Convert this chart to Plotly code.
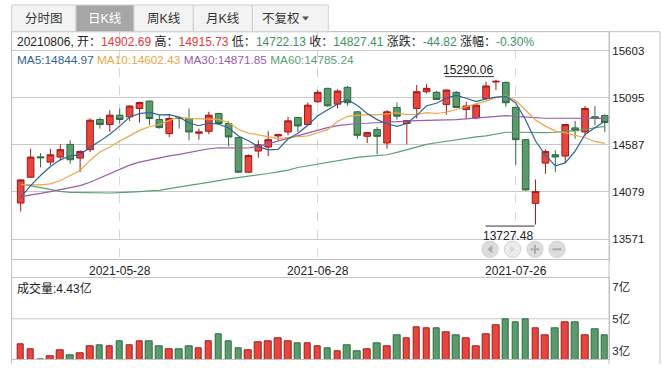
import plotly.graph_objects as go

# ---------------- data ----------------
dates = ["2021-05-14", "2021-05-17", "2021-05-18", "2021-05-19", "2021-05-20", "2021-05-21",
         "2021-05-24", "2021-05-25", "2021-05-26", "2021-05-27", "2021-05-28", "2021-05-31",
         "2021-06-01", "2021-06-02", "2021-06-03", "2021-06-04", "2021-06-07", "2021-06-08",
         "2021-06-09", "2021-06-10", "2021-06-11", "2021-06-15", "2021-06-16", "2021-06-17",
         "2021-06-18", "2021-06-21", "2021-06-22", "2021-06-23", "2021-06-24", "2021-06-25",
         "2021-06-28", "2021-06-29", "2021-06-30", "2021-07-01", "2021-07-02", "2021-07-05",
         "2021-07-06", "2021-07-07", "2021-07-08", "2021-07-09", "2021-07-12", "2021-07-13",
         "2021-07-14", "2021-07-15", "2021-07-16", "2021-07-19", "2021-07-20", "2021-07-21",
         "2021-07-22", "2021-07-23", "2021-07-26", "2021-07-27", "2021-07-28", "2021-07-29",
         "2021-07-30", "2021-08-02", "2021-08-03", "2021-08-04", "2021-08-05", "2021-08-06"]

opens = [13960, 14238, 14458, 14401, 14455, 14592, 14444, 14535, 14860, 14806,
         14907, 14889, 14979, 15059, 14860, 14708, 14882, 14871, 14712, 14733,
         14925, 14817, 14665, 14292, 14520, 14563, 14683, 14726, 14882, 14806,
         15052, 15196, 15026, 15207, 14943, 14679, 14752, 14607, 14990, 14817,
         14979, 15160, 15153, 15023, 15153, 14968, 14878, 15088, 15265, 15261,
         14990, 14643, 13956, 14390, 14480, 14466, 14770, 14726, 14890, 14902.69]
highs = [14216, 14545, 14498, 14545, 14592, 14636, 14527, 14871, 14882, 14961,
         14979, 15015, 15052, 15062, 14907, 14907, 14889, 14979, 14762, 14943,
         14932, 14842, 14672, 14484, 14636, 14733, 14708, 14889, 14889, 15044,
         15178, 15203, 15185, 15222, 14950, 14726, 14780, 14961, 15044, 14853,
         15232, 15243, 15167, 15185, 15167, 15052, 15033, 15269, 15290.06, 15269,
         14997, 14650, 14213, 14538, 14527, 14809, 14845, 15005, 15005, 14915.73]
lows = [13869, 14231, 14346, 14365, 14419, 14383, 14292, 14509, 14762, 14726,
        14817, 14845, 14827, 14798, 14762, 14672, 14762, 14636, 14643, 14701,
        14809, 14571, 14281, 14285, 14448, 14466, 14636, 14690, 14726, 14798,
        15041, 14997, 14979, 15008, 14654, 14607, 14484, 14545, 14860, 14592,
        14871, 15142, 15070, 14914, 14986, 14864, 14864, 15070, 15178, 14997,
        14372, 14093, 13727.48, 14274, 14292, 14394, 14654, 14690, 14798, 14722.13]
closes = [14209, 14455, 14448, 14480, 14535, 14426, 14516, 14853, 14806, 14907,
          14860, 15005, 15044, 14871, 14773, 14871, 14871, 14726, 14726, 14907,
          14817, 14672, 14292, 14473, 14587, 14643, 14697, 14846, 14791, 15015,
          15153, 15008, 15167, 15041, 14690, 14719, 14679, 14943, 14896, 14849,
          15160, 15196, 15077, 15178, 14990, 15005, 15015, 15222, 15272, 15041,
          14643, 14101, 14083, 14516, 14456.5, 14806, 14740, 14979.2, 14872.23, 14827.41]
# volume, unit: 亿
volumes = [3.97, 3.69, 3.18, 3.32, 3.64, 3.37, 3.49, 3.85, 3.90, 3.85,
           4.13, 3.90, 4.11, 4.16, 3.85, 3.69, 3.69, 3.85, 3.74, 4.16,
           4.53, 4.13, 3.79, 3.64, 4.06, 4.13, 4.27, 4.16, 4.02, 4.02,
           3.85, 3.79, 3.60, 3.90, 3.60, 3.69, 4.01, 3.85, 4.43, 4.27,
           4.90, 4.80, 4.85, 4.64, 4.48, 4.32, 3.85, 4.53, 4.96, 5.33,
           5.17, 5.33, 4.80, 4.43, 4.80, 5.12, 5.12, 4.48, 4.75, 4.43]
# moving-average values before enough in-window closes exist
ma5_head = [14021, 14148, 14256, 14354]
ma10_head = [14158, 14158, 14155, 14166, 14202, 14256, 14310, 14419, 14509]
ma30 = [14028, 14050, 14064, 14083, 14104, 14122, 14148, 14184, 14231, 14274,
        14325, 14368, 14401, 14426, 14451, 14469, 14484, 14506, 14527, 14545,
        14556, 14556, 14556, 14553, 14571, 14600, 14636, 14665, 14690, 14715,
        14744, 14773, 14795, 14809, 14817, 14820, 14824, 14827, 14831, 14842,
        14849, 14849, 14853, 14856, 14860, 14867, 14878, 14889, 14896, 14903,
        14893, 14885, 14878, 14874, 14874, 14874, 14874, 14874, 14873, 14871.85]
ma60 = [14166, 14144, 14122, 14101, 14086, 14075, 14072, 14072, 14068, 14068,
        14072, 14075, 14083, 14090, 14097, 14115, 14137, 14151, 14166, 14180,
        14202, 14220, 14234, 14245, 14256, 14278, 14296, 14314, 14343, 14361,
        14386, 14404, 14419, 14437, 14451, 14462, 14473, 14480, 14506, 14534,
        14567, 14592, 14610, 14625, 14647, 14661, 14672, 14683, 14701, 14723,
        14723, 14719, 14715, 14719, 14723, 14730, 14741, 14755, 14770, 14785.24]

price_ticks = [15603, 15095, 14587, 14079, 13571]
price_range = [13353, 15807]
date_ticks = ["2021-05-28", "2021-06-28", "2021-07-26"]
vol_tick_text = ["3亿", "5亿", "7亿"]
tabs = ["分时图", "日K线", "周K线", "月K线", "不复权"]
selected_tab = "日K线"

# ---------------- derived ----------------
n = len(dates)
xs = list(range(n))
ma5 = ma5_head + [sum(closes[i - 4:i + 1]) / 5 for i in range(4, n)]
ma10 = ma10_head + [sum(closes[i - 9:i + 1]) / 10 for i in range(9, n)]

W, H = 664, 368
FONT = "Liberation Sans, Arial, Noto Sans CJK SC, sans-serif"
RED_F, RED_L = "#e5463e", "#a3191b"
GRN_F, GRN_L = "#5b9a6c", "#2d6a3c"
RED_T, GRN_T = "#e8383b", "#3f9262"
C_MA5, C_MA10, C_MA30, C_MA60 = "#2f6597", "#eba747", "#9a5bae", "#5c9f74"
GRID = "#c9c9c9"
BORDER = "#c2c2c2"


def px(x):
    return x / W


def py(y):
    return 1 - y / H


fig = go.Figure()

fig.add_trace(go.Candlestick(
    x=xs, open=opens, high=highs, low=lows, close=closes,
    increasing=dict(fillcolor=RED_F, line=dict(color=RED_L, width=1)),
    decreasing=dict(fillcolor=GRN_F, line=dict(color=GRN_L, width=1)),
    whiskerwidth=0, hoverinfo="skip", xaxis="x", yaxis="y", showlegend=False))

for vals, col in [(ma60, C_MA60), (ma30, C_MA30), (ma10, C_MA10), (ma5, C_MA5)]:
    fig.add_trace(go.Scatter(x=xs, y=vals, mode="lines", line=dict(color=col, width=1.2),
                             hoverinfo="skip", showlegend=False, xaxis="x", yaxis="y"))

up = [c >= o for o, c in zip(opens, closes)]
fig.add_trace(go.Bar(
    x=xs, y=volumes, width=0.66,
    marker=dict(color=[RED_F if u else GRN_F for u in up],
                line=dict(color=[RED_L if u else GRN_L for u in up], width=1)),
    hoverinfo="skip", showlegend=False, xaxis="x2", yaxis="y2"))

vmin, vmax = min(volumes), max(volumes)
vtop = 2 * vmax - vmin
vspan = vtop - vmin
vol_tickvals = [vmin + 0.10 * vspan, vmax, vtop - 0.105 * vspan]

x_dom = [px(11.7), px(609)]
x_range = [-0.91, 59.42]
tick_idx = [dates.index(d) for d in date_ticks]

fig.update_layout(
    template="none",
    width=W, height=H, margin=dict(l=0, r=0, t=0, b=0, pad=0),
    paper_bgcolor="white", plot_bgcolor="white",
    font=dict(family=FONT, size=12, color="#222"),
    boxgap=0.33, boxgroupgap=0, bargap=0,
    xaxis=dict(domain=x_dom, range=x_range, anchor="y", tickvals=tick_idx, ticktext=date_ticks,
               showgrid=True, griddash="dash", gridcolor="#d6d6d6", gridwidth=1,
               showline=True, linecolor=BORDER, mirror=True, ticks="", zeroline=False,
               rangeslider=dict(visible=False), tickfont=dict(size=12, color="#222"),
               fixedrange=True, automargin=False),
    yaxis=dict(domain=[py(259.3), py(31.7)], range=price_range, side="right", anchor="x",
               tickvals=price_ticks, ticktext=[str(t) for t in price_ticks],
               showgrid=True, gridcolor=GRID, gridwidth=1, zeroline=False,
               showline=True, linecolor=BORDER, mirror=True, ticks="",
               tickfont=dict(size=11.5, color="#222"), fixedrange=True, automargin=False),
    xaxis2=dict(domain=x_dom, range=x_range, anchor="y2", matches="x", showticklabels=False,
                showgrid=False, showline=True, linecolor=BORDER, mirror=True, ticks="",
                zeroline=False, fixedrange=True, automargin=False),
    yaxis2=dict(domain=[py(359.3), py(278.3)], range=[vmin, vtop], side="right", anchor="x2",
                tickvals=vol_tickvals, ticktext=vol_tick_text, showgrid=False, zeroline=False,
                showline=True, linecolor=BORDER, mirror=True, ticks="",
                tickfont=dict(size=11.5, color="#222"), fixedrange=True, automargin=False),
)

shapes = []
annotations = []

# volume middle gridline at max volume
shapes.append(dict(type="line", xref="x2 domain", x0=0, x1=1, yref="y2", y0=vmax, y1=vmax,
                   line=dict(color=GRID, width=1), layer="below"))

# frame lines
for x0, y0, x1, y1 in [(11.7, 31.7, 660, 31.7), (11.7, 31.7, 11.7, 364), (609, 31.7, 609, 364),
                       (660, 31.7, 660, 364)]:
    shapes.append(dict(type="line", xref="paper", yref="paper", x0=px(x0), y0=py(y0),
                       x1=px(x1), y1=py(y1), line=dict(color=BORDER, width=1)))

# tabs
tab_edges = [11.7, 76, 134, 193.3, 252.3, 328.3]
for i, name in enumerate(tabs):
    sel = name == selected_tab
    shapes.append(dict(type="rect", xref="paper", yref="paper",
                       x0=px(tab_edges[i]), x1=px(tab_edges[i + 1]), y0=py(31.7), y1=py(5),
                       fillcolor="#a6a6a6" if sel else "#f3f3f3",
                       line=dict(color="#cfcfcf", width=1)))
    cx = (tab_edges[i] + tab_edges[i + 1]) / 2
    if i == len(tabs) - 1:
        cx -= 9
    annotations.append(dict(xref="paper", yref="paper", x=px(cx), y=py(18.5), text=name,
                            showarrow=False, xanchor="center", yanchor="middle",
                            font=dict(size=12.5, color="white" if sel else "#333")))
# dropdown triangle
shapes.append(dict(type="path", xref="paper", yref="paper",
                   path=f"M {px(302)} {py(16.5)} L {px(309)} {py(16.5)} L {px(305.5)} {py(20.5)} Z",
                   fillcolor="#555", line=dict(width=0)))

# header texts
prev_close = closes[-2]
chg = closes[-1] - prev_close
pct = chg / prev_close * 100


def col_of(v):
    return RED_T if v >= prev_close else GRN_T


def span(txt, c):
    return f"<span style='color:{c}'>{txt}</span>"


chg_col = RED_T if chg >= 0 else GRN_T
row1 = (f"{dates[-1].replace('-', '')}, 开：{span(f'{opens[-1]:.2f}', col_of(opens[-1]))} "
        f"高：{span(f'{highs[-1]:.2f}', col_of(highs[-1]))} "
        f"低：{span(f'{lows[-1]:.2f}', col_of(lows[-1]))} "
        f"收：{span(f'{closes[-1]:.2f}', col_of(closes[-1]))} "
        f"涨跌：{span(f'{chg:.2f}', chg_col)} 涨幅：{span(f'{pct:.2f}%', chg_col)}")
annotations.append(dict(xref="paper", yref="paper", x=px(15), y=py(41.7), text=row1,
                        showarrow=False, xanchor="left", yanchor="middle",
                        font=dict(size=12, color="#222")))
row2 = " ".join([span(f"MA5:{ma5[-1]:.2f}", C_MA5), span(f"MA10:{ma10[-1]:.2f}", C_MA10),
                 span(f"MA30:{ma30[-1]:.2f}", C_MA30), span(f"MA60:{ma60[-1]:.2f}", C_MA60)])
annotations.append(dict(xref="paper", yref="paper", x=px(15), y=py(60.5), text=row2,
                        showarrow=False, xanchor="left", yanchor="middle",
                        font=dict(size=11.8)))
annotations.append(dict(xref="paper", yref="paper", x=px(15), y=py(288), text=f"成交量:{volumes[-1]:.2f}亿",
                        showarrow=False, xanchor="left", yanchor="middle",
                        font=dict(size=12, color="#222")))

# max / min labels
i_hi = highs.index(max(highs))
i_lo = lows.index(min(lows))
annotations.append(dict(xref="x", yref="y", x=i_hi, y=highs[i_hi], text=f"{highs[i_hi]:.2f}",
                        showarrow=False, xanchor="right", yanchor="bottom", xshift=-1, yshift=0.5,
                        font=dict(size=12, color="#222")))
shapes.append(dict(type="line", xref="x", yref="y", xsizemode="pixel", ysizemode="pixel",
                   xanchor=i_hi, yanchor=highs[i_hi], x0=-51, x1=-2, y0=3, y1=3,
                   line=dict(color="#333", width=1)))
annotations.append(dict(xref="x", yref="y", x=i_lo, y=lows[i_lo], text=f"{lows[i_lo]:.2f}",
                        showarrow=False, xanchor="right", yanchor="top", xshift=-1, yshift=-2,
                        font=dict(size=12, color="#222")))
shapes.append(dict(type="line", xref="x", yref="y", xsizemode="pixel", ysizemode="pixel",
                   xanchor=i_lo, yanchor=lows[i_lo], x0=-50, x1=-1, y0=-1.5, y1=-1.5,
                   line=dict(color="#333", width=1)))

# navigation buttons
btn_x = [490, 512.5, 535, 557]
btn_y = 249.3
r = 8.2
for k, bx in enumerate(btn_x):
    light = k == 1
    shapes.append(dict(type="circle", xref="paper", yref="paper",
                       x0=px(bx - r), x1=px(bx + r), y0=py(btn_y + r), y1=py(btn_y - r),
                       fillcolor="#ececec" if light else "#dcdcdc",
                       line=dict(color="#d2d2d2", width=1)))
g1, g2 = "#ababab", "#dadada"
shapes.append(dict(type="path", xref="paper", yref="paper",
                   path=f"M {px(487.3)} {py(btn_y)} L {px(492.3)} {py(btn_y - 4)} L {px(492.3)} {py(btn_y + 4)} Z",
                   fillcolor=g1, line=dict(width=0)))
shapes.append(dict(type="path", xref="paper", yref="paper",
                   path=f"M {px(515.2)} {py(btn_y)} L {px(510.2)} {py(btn_y - 4)} L {px(510.2)} {py(btn_y + 4)} Z",
                   fillcolor=g2, line=dict(width=0)))
for x0, y0, x1, y1 in [(530.5, btn_y, 539.5, btn_y), (535, btn_y - 4.5, 535, btn_y + 4.5),
                       (552.5, btn_y, 561.5, btn_y)]:
    shapes.append(dict(type="line", xref="paper", yref="paper", x0=px(x0), y0=py(y0),
                       x1=px(x1), y1=py(y1), line=dict(color=g1, width=2)))

fig.update_layout(shapes=shapes, annotations=annotations)
fig.write_html("out.html", config={"displayModeBar": False},
               post_script="document.body.style.margin='0';document.body.style.overflow='hidden';")
